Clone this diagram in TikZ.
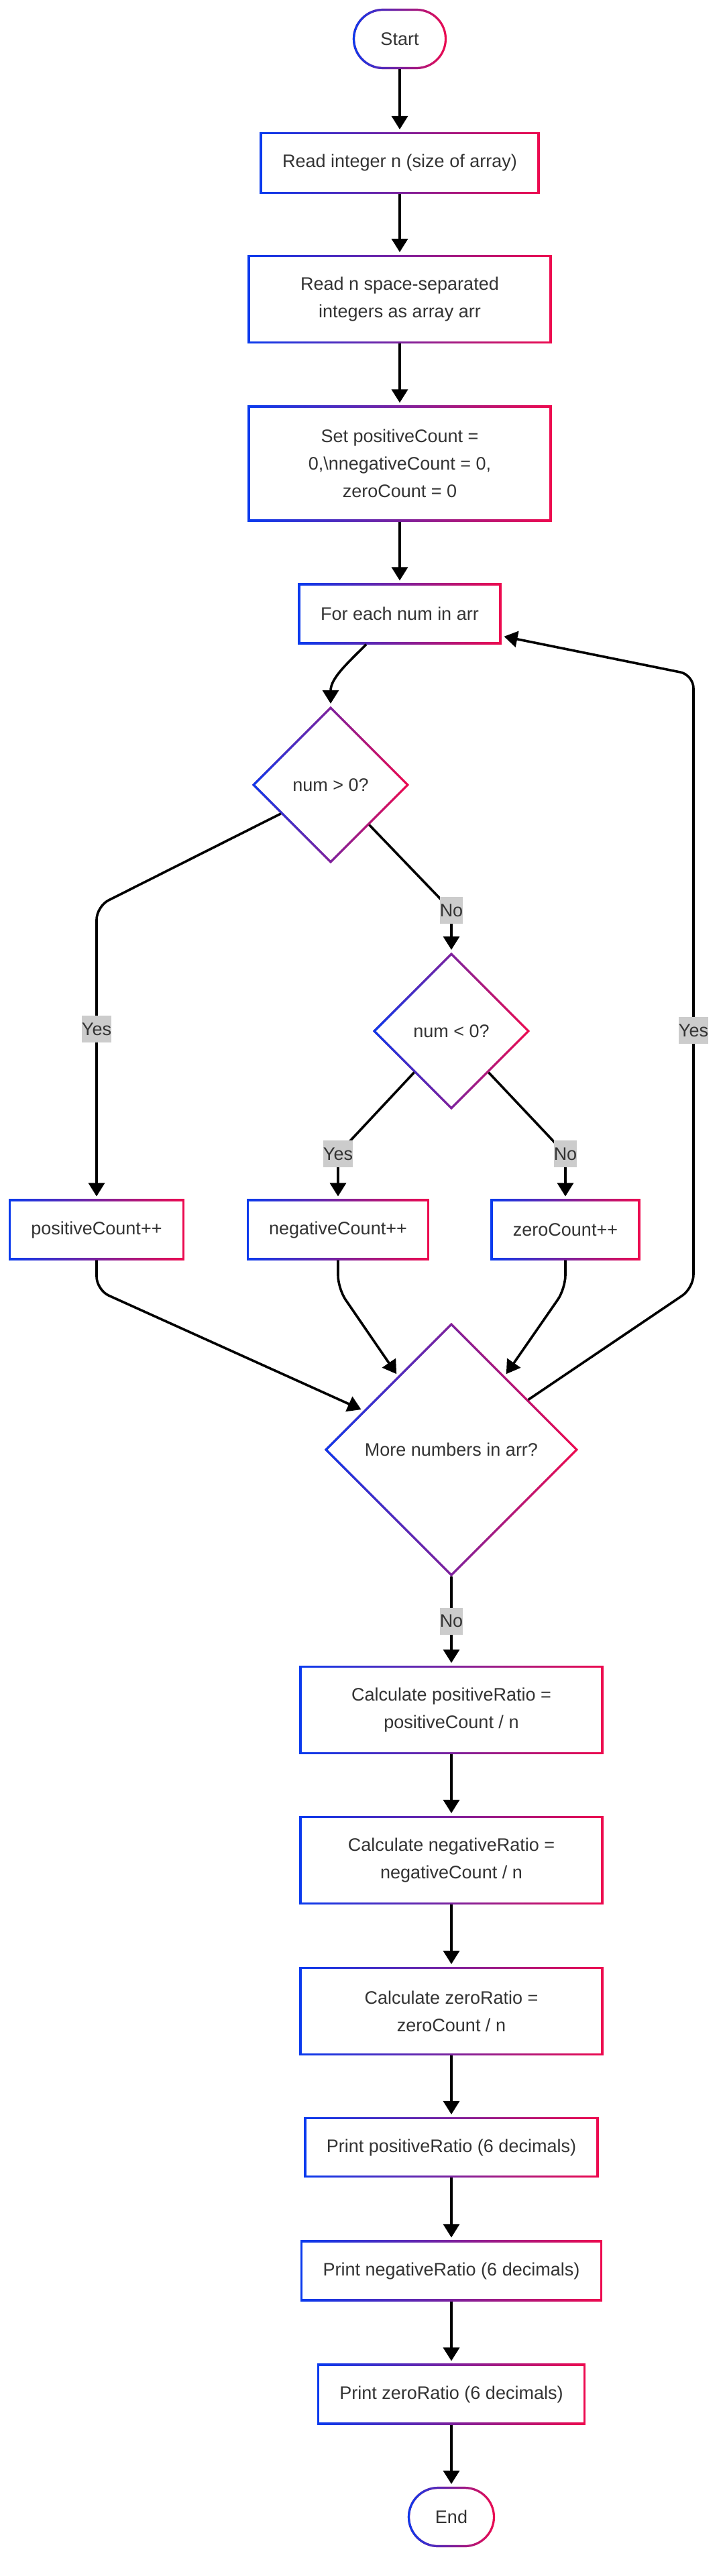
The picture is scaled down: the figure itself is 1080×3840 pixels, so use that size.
\documentclass[tikz,border=0pt]{standalone}
\usepackage{fontspec}
\setmainfont{Liberation Sans}
\usetikzlibrary{arrows.meta,shapes.geometric,shapes.misc,fadings}
\definecolor{flowBlue}{HTML}{0A3BEF}
\definecolor{flowRed}{HTML}{EE0A4F}
\definecolor{flowText}{HTML}{333333}
\definecolor{flowLabel}{HTML}{CCCCCC}
\tikzfading[name=fadeToRight, left color=transparent!0, right color=transparent!100]

\begin{document}
\begin{tikzpicture}
[x=1pt, y=1pt,
  gradBorder/.style={draw=flowRed, line width=3.2pt, fill=white, text=flowText,
    font=\fontsize{27}{41}\selectfont, align=center, inner sep=0pt,
    postaction={draw=flowBlue, line width=3.2pt, path fading=fadeToRight}},
  boxDecorate/.style={gradBorder, shape=rectangle},
  termDecorate/.style={gradBorder, shape=rounded rectangle, minimum width=137pt, minimum height=87pt},
  decisionDecorate/.style={gradBorder, shape=diamond},
  lineDecorate/.style={line width=3.6pt, draw=black, rounded corners=20pt,
    -{Triangle[length=20pt,width=24pt]}, shorten >=4pt},
  labelDecorate/.style={sharp corners, fill=flowLabel, text=flowText, font=\fontsize{27}{41}\selectfont,
    inner xsep=0pt, inner ysep=0pt, minimum height=40pt}]
\useasboundingbox (0,0) rectangle (1080,-3840);
\fill[white] (0,0) rectangle (1080,-3840);
%% nodes or steps
\node (start) at (596,-58) [termDecorate] {Start};
\node (readN) at (596,-243) [boxDecorate, minimum width=414pt, minimum height=89pt] {Read integer n (size of array)};
\node (readArr) at (596,-446) [boxDecorate, minimum width=450pt, minimum height=129pt] {Read n space-separated\\integers as array arr};
\node (init) at (596,-691) [boxDecorate, minimum width=450pt, minimum height=170pt] {Set positiveCount =\\0,\textbackslash nnegativeCount = 0,\\zeroCount = 0};
\node (loop) at (596,-915) [boxDecorate, minimum width=300pt, minimum height=88pt] {For each num in arr};
\node (isPos) at (493,-1170) [decisionDecorate, minimum width=231pt, minimum height=231pt] {num > 0?};
\node (isNeg) at (673,-1537) [decisionDecorate, minimum width=231pt, minimum height=231pt] {num < 0?};
\node (incPos) at (144,-1833) [boxDecorate, minimum width=259pt, minimum height=88pt] {positiveCount++};
\node (incNeg) at (504,-1833) [boxDecorate, minimum width=269pt, minimum height=88pt] {negativeCount++};
\node (incZero) at (843,-1833) [boxDecorate, minimum width=220pt, minimum height=88pt] {zeroCount++};
\node (more) at (673,-2161) [decisionDecorate, minimum width=375pt, minimum height=375pt] {More numbers in arr?};
\node (calcPos) at (673,-2549) [boxDecorate, minimum width=450pt, minimum height=129pt] {Calculate positiveRatio =\\positiveCount / n};
\node (calcNeg) at (673,-2773) [boxDecorate, minimum width=450pt, minimum height=129pt] {Calculate negativeRatio =\\negativeCount / n};
\node (calcZero) at (673,-2998) [boxDecorate, minimum width=450pt, minimum height=129pt] {Calculate zeroRatio =\\zeroCount / n};
\node (printPos) at (673,-3201) [boxDecorate, minimum width=436pt, minimum height=87pt] {Print positiveRatio (6 decimals)};
\node (printNeg) at (673,-3385) [boxDecorate, minimum width=447pt, minimum height=88pt] {Print negativeRatio (6 decimals)};
\node (printZero) at (673,-3569) [boxDecorate, minimum width=397pt, minimum height=88pt] {Print zeroRatio (6 decimals)};
\node (stop) at (673,-3752) [termDecorate, minimum width=127pt] {End};
%% edges or arrows
\path
\foreach \startnode/\endnode in {
  start/readN, readN/readArr, readArr/init, init/loop,
  calcPos/calcNeg, calcNeg/calcZero, calcZero/printPos,
  printPos/printNeg, printNeg/printZero, printZero/stop}
{
  (\startnode) edge[lineDecorate] (\endnode)
};
\draw[lineDecorate] ([xshift=-50pt]loop.south) to[out=-135,in=90] (isPos.north);
\draw[lineDecorate] (isPos.210) -- (144,-1351) -- node[labelDecorate, pos=0.42] {Yes} (incPos.north);
\draw[lineDecorate] (isPos.-46) -- (673,-1357) node[labelDecorate] {No} -- (isNeg.north);
\draw[lineDecorate] (isNeg.228) -- (504,-1720) node[labelDecorate] {Yes} -- (incNeg.north);
\draw[lineDecorate] (isNeg.-48) -- (843,-1720) node[labelDecorate] {No} -- (incZero.north);
\draw[lineDecorate] (incPos.south) -- (144,-1923) -- (more.156);
\draw[lineDecorate] (incNeg.south) -- (504,-1921) -- (more.126);
\draw[lineDecorate] (incZero.south) -- (843,-1921) -- (more.54);
\draw[lineDecorate] (more.33) -- (1034,-1920) -- node[labelDecorate, pos=0.42] {Yes} (1034,-1006) -- ([yshift=-33pt]loop.east);
\draw[lineDecorate] (more.south) -- node[labelDecorate] {No} (calcPos.north);
\end{tikzpicture}
\end{document}
